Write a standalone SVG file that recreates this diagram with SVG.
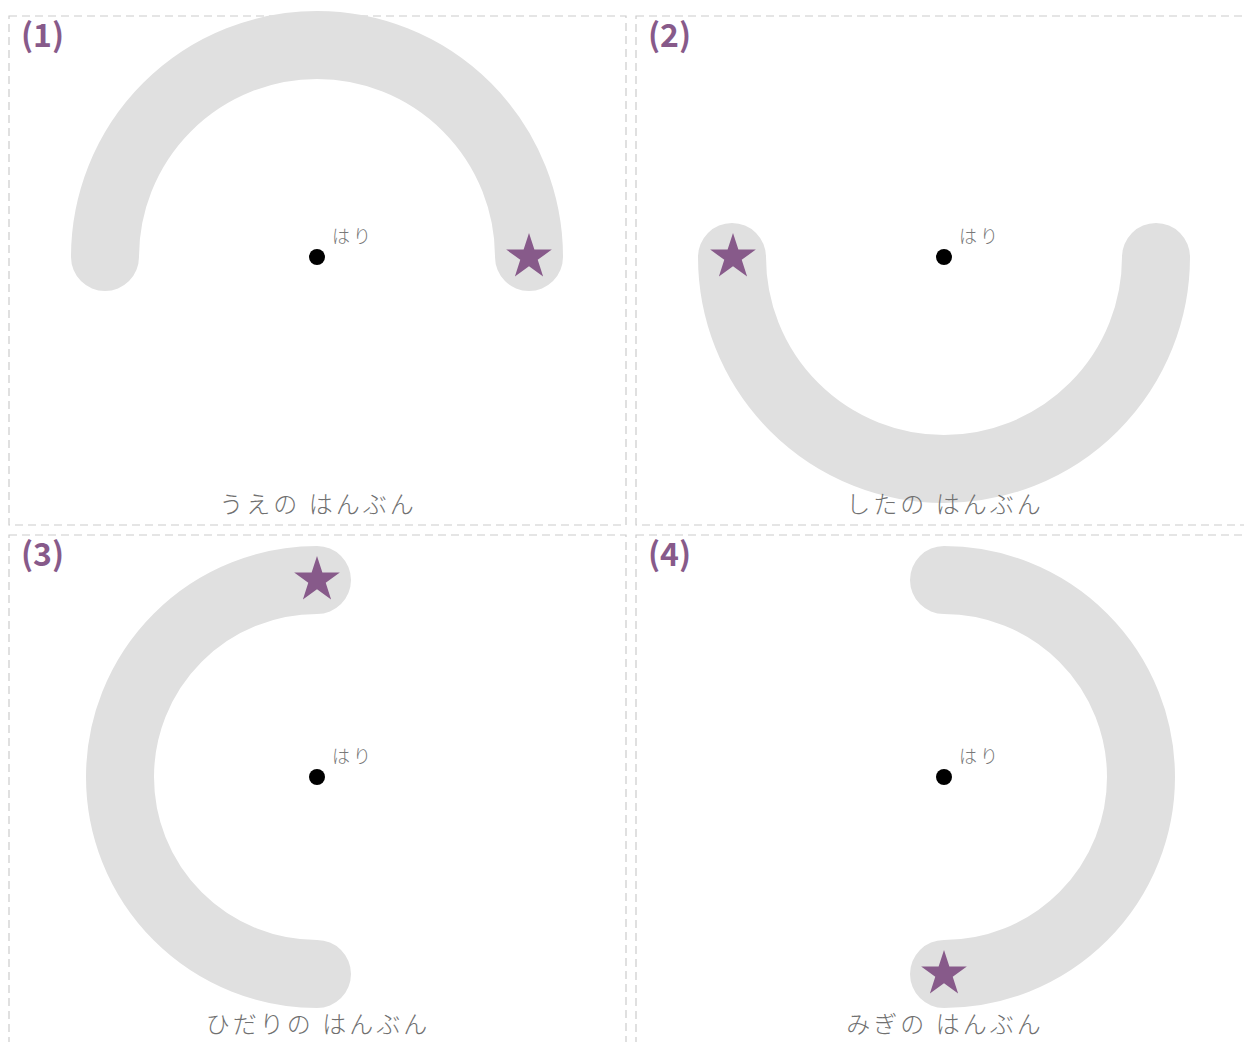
<svg xmlns="http://www.w3.org/2000/svg" width="1244" height="1042" viewBox="0 0 1244 1042">
<defs>
<style>
.panel{fill:none;stroke:#cccccc;stroke-width:1.2;stroke-dasharray:8 5}
.arc{fill:none;stroke:#e0e0e0;stroke-width:68;stroke-linecap:round}
.star{fill:#875a8a}
.num{font-family:"Noto Sans CJK JP","Noto Sans",sans-serif;font-weight:bold;font-size:32px;fill:#875a8a}
.hari{font-family:"Noto Sans CJK JP",sans-serif;font-weight:300;font-size:18px;letter-spacing:3px;fill:#777777}
.cap{font-family:"Noto Sans CJK JP",sans-serif;font-weight:300;font-size:24px;letter-spacing:3px;fill:#707070;text-anchor:middle}
</style>
<polygon id="st" points="0,-24 5.39,-7.42 22.83,-7.42 8.72,2.83 14.11,19.42 0,9.17 -14.11,19.42 -8.72,2.83 -22.83,-7.42 -5.39,-7.42"/>
</defs>
<rect width="1244" height="1042" fill="#ffffff"/>
<g id="panel1">
<rect class="panel" x="9" y="16" width="617" height="509"/>
<path class="arc" d="M105,257 A212,212 0 0 1 529,257"/>
<use href="#st" class="star" x="529" y="257"/>
<circle cx="317" cy="257" r="8" fill="#000"/>
<text class="hari" x="332" y="243">はり</text>
<text class="num" x="21" y="47">(1)</text>
<text class="cap" x="318" y="513">うえの はんぶん</text>
</g>
<g id="panel2">
<rect class="panel" x="636" y="16" width="617" height="509"/>
<path class="arc" d="M732,257 A212,212 0 0 0 1156,257"/>
<use href="#st" class="star" x="733" y="257"/>
<circle cx="944" cy="257" r="8" fill="#000"/>
<text class="hari" x="959" y="243">はり</text>
<text class="num" x="648" y="47">(2)</text>
<text class="cap" x="945" y="513">したの はんぶん</text>
</g>
<g id="panel3">
<rect class="panel" x="9" y="535" width="617" height="509"/>
<path class="arc" d="M317,580 A197,197 0 0 0 317,974"/>
<use href="#st" class="star" x="317" y="580"/>
<circle cx="317" cy="777" r="8" fill="#000"/>
<text class="hari" x="332" y="763">はり</text>
<text class="num" x="21" y="566">(3)</text>
<text class="cap" x="318" y="1033">ひだりの はんぶん</text>
</g>
<g id="panel4">
<rect class="panel" x="636" y="535" width="617" height="509"/>
<path class="arc" d="M944,580 A197,197 0 0 1 944,974"/>
<use href="#st" class="star" x="944" y="974"/>
<circle cx="944" cy="777" r="8" fill="#000"/>
<text class="hari" x="959" y="763">はり</text>
<text class="num" x="648" y="566">(4)</text>
<text class="cap" x="945" y="1033">みぎの はんぶん</text>
</g>
<g id="connectors"/>
</svg>
